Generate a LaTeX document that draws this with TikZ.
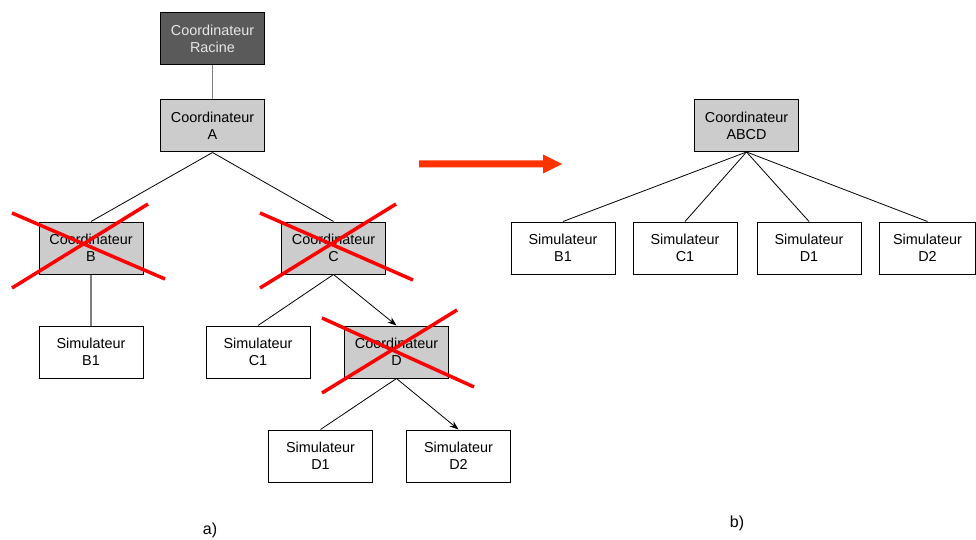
\documentclass[tikz,border=0pt]{standalone}
\usepackage{fontspec}
\setmainfont{Liberation Sans}
\usetikzlibrary{arrows.meta}
\definecolor{boxgray}{HTML}{CCCCCC}
\definecolor{rootgray}{HTML}{5A5A5A}
\definecolor{roottext}{HTML}{E6E6E6}
\definecolor{linegray}{HTML}{7F7F7F}
\definecolor{crossred}{HTML}{FF0000}
\definecolor{arrowred}{HTML}{FF3300}
\begin{document}
\begin{tikzpicture}[x=1pt,y=-1pt,
  box/.style={draw=black, line width=1pt, minimum width=104pt, minimum height=52pt,
    inner sep=0pt, align=center, font=\fontsize{14.4}{17}\selectfont},
  coordbox/.style={box, fill=boxgray},
  simbox/.style={box, fill=white},
  rootbox/.style={box, fill=rootgray, text=roottext},
  link/.style={line width=0.8pt, black},
  greylink/.style={line width=1.2pt, linegray},
  dirlink/.style={link, -{Stealth[length=9pt,width=6.5pt]}},
  cross/.style={line width=3.5pt, crossred},
  caption/.style={font=\fontsize{16}{19}\selectfont},
]
\useasboundingbox (0,0) rectangle (976,540);

% hierarchy before flattening
\node[rootbox]  (root) at (212.5,38.5) {Coordinateur\\Racine};
\node[coordbox] (A)    at (212.5,126)  {Coordinateur\\A};
\node[coordbox] (B)    at (91,248)     {Coordinateur\\B};
\node[coordbox] (C)    at (333.5,248)  {Coordinateur\\C};
\node[simbox]   (B1)   at (91,352)     {Simulateur\\B1};
\node[simbox]   (C1)   at (258,352)    {Simulateur\\C1};
\node[coordbox] (D)    at (396.5,352)  {Coordinateur\\D};
\node[simbox]   (D1)   at (320.5,456)  {Simulateur\\D1};
\node[simbox]   (D2)   at (458.5,456)  {Simulateur\\D2};

\draw[greylink] (root.south) -- (A.north);
\draw[link] (A.south) -- (B.north);
\draw[link] (A.south) -- (C.north);
\draw[greylink] (B.south) -- (B1.north);
\draw[link] (C.south) -- (C1.north);
\draw[dirlink] (C.south) -- (D.north);
\draw[link] (D.south) -- (D1.north);
\draw[dirlink] (D.south) -- (D2.north);

% removed coordinators
\draw[cross] (12,213) -- (165,279);
\draw[cross] (12,288) -- (148,204);
\draw[cross] (260,213) -- (413,280);
\draw[cross] (260,288) -- (396,204);
\draw[cross] (322,318) -- (474,387);
\draw[cross] (322,393) -- (457,310);

% transformation arrow
\fill[arrowred] (419,160.5) -- (543,160.5) -- (543,154.5) -- (562,164) -- (543,173.5)
  -- (543,167.5) -- (419,167.5) -- cycle;

% flattened hierarchy
\node[coordbox] (ABCD) at (746.5,125.5) {Coordinateur\\ABCD};
\node[simbox] (rB1) at (563,248)   {Simulateur\\B1};
\node[simbox] (rC1) at (685,248)   {Simulateur\\C1};
\node[simbox] (rD1) at (809,248)   {Simulateur\\D1};
\node[simbox, minimum width=96pt] (rD2) at (927.5,248) {Simulateur\\D2};

\foreach \s in {rB1,rC1,rD1,rD2}
  \draw[link] (ABCD.south) -- (\s.north);

\node[caption] (capa) at (210,530) {a)};
\node[caption] (capb) at (737,523) {b)};
\end{tikzpicture}
\end{document}
